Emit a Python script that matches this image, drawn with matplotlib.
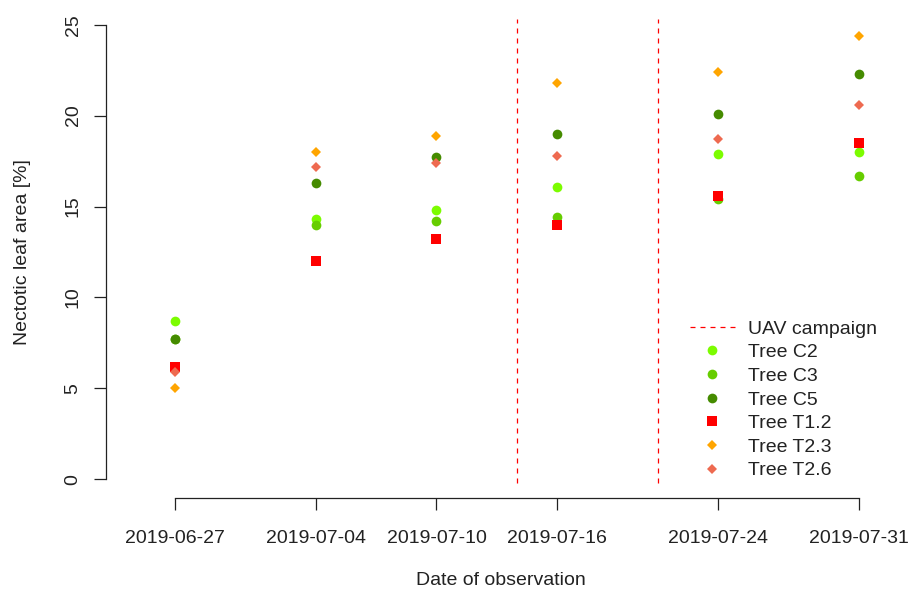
import matplotlib
matplotlib.use("Agg")
import matplotlib.pyplot as plt
import matplotlib.dates as mdates
import numpy as np
from datetime import date, timedelta

plt.rcParams['font.family'] = ['Liberation Sans', 'DejaVu Sans']

# Observation dates and necrotic leaf area per tree [%]
obs_dates = [date(2019, 6, 27), date(2019, 7, 4), date(2019, 7, 10),
             date(2019, 7, 16), date(2019, 7, 24), date(2019, 7, 31)]
uav_dates = [date(2019, 7, 14), date(2019, 7, 21)]

tree_c2 = [8.7, 14.3, 14.8, 16.1, 17.9, 18.0]
tree_c3 = [7.7, 14.0, 14.2, 14.4, 15.4, 16.7]
tree_c5 = [7.7, 16.3, 17.7, 19.0, 20.1, 22.3]
tree_t12 = [6.2, 12.0, 13.2, 14.0, 15.6, 18.5]
tree_t23 = [5.0, 18.0, 18.9, 21.8, 22.4, 24.4]
tree_t26 = [5.9, 17.2, 17.4, 17.8, 18.7, 20.6]

series = [
    ("Tree C2", tree_c2, "o", "#7CFC00", 7),
    ("Tree C3", tree_c3, "o", "#66CD00", 7),
    ("Tree C5", tree_c5, "o", "#458B00", 7),
    ("Tree T1.2", tree_t12, "s", "#FF0000", 6.5),
    ("Tree T2.3", tree_t23, "D", "#FFA500", 4.8),
    ("Tree T2.6", tree_t26, "D", "#EE6A50", 4.8),
]

W, H = 909, 592
fig = plt.figure(figsize=(W / 100, H / 100), dpi=100)
# plot region in pixels: left 106, right 895, top 6.5, bottom 497.5
ax = fig.add_axes([106 / W, (H - 497.5) / H, (895 - 106) / W, (497.5 - 6.5) / H])

x = mdates.date2num(obs_dates)
for name, vals, mk, col, ms in series:
    ax.plot(x, vals, linestyle="none", marker=mk, color=col, markersize=ms,
            markeredgewidth=0, label=name)

ax.vlines(mdates.date2num(uav_dates), -0.2, 25.3, colors="#FF0000",
          linestyles=(0, (4, 4)), linewidth=0.9)

x0 = mdates.date2num(obs_dates[0])
ax.set_xlim(x0 - 3.43, x0 + 35.8)
ax.set_ylim(-1, 26)

ax.set_xticks(x)
ax.set_xticklabels([d.strftime("%Y-%m-%d") for d in obs_dates])
ax.set_yticks([0, 5, 10, 15, 20, 25])

for s in ["top", "right"]:
    ax.spines[s].set_visible(False)
ax.spines["left"].set_bounds(0, 25)
ax.spines["bottom"].set_bounds(x[0], x[-1])
for s in ["left", "bottom"]:
    ax.spines[s].set_linewidth(0.9)
    ax.spines[s].set_color("#222222")

ax.tick_params(axis="both", direction="out", length=8.6, width=0.9,
               color="#222222", labelsize=14, labelcolor="#222222")
ax.tick_params(axis="x", pad=14.5)
ax.tick_params(axis="y", pad=9, labelrotation=90)
for lbl in ax.get_yticklabels():
    lbl.set_va("center")

ax.set_xlabel("Date of observation", fontsize=14, color="#222222")
ax.set_ylabel("Nectotic leaf area [%]", fontsize=14, color="#222222")
ax.xaxis.set_label_coords(0.5, -0.151)
ax.yaxis.set_label_coords(-0.095, 0.5)

handles, labels = ax.get_legend_handles_labels()
uav_handle = plt.Line2D([], [], color="#FF0000", linestyle=(0, (4, 4)), linewidth=0.9)
ax.legend([uav_handle] + handles, ["UAV campaign"] + labels,
          loc="upper left", bbox_to_anchor=(690 / W, (H - 320) / H),
          bbox_transform=fig.transFigure, frameon=False, fontsize=14,
          borderpad=0, borderaxespad=0, handlelength=2.3, handletextpad=0.67,
          labelspacing=0.31, labelcolor="#222222")

fig.savefig("out.png", dpi=100)
